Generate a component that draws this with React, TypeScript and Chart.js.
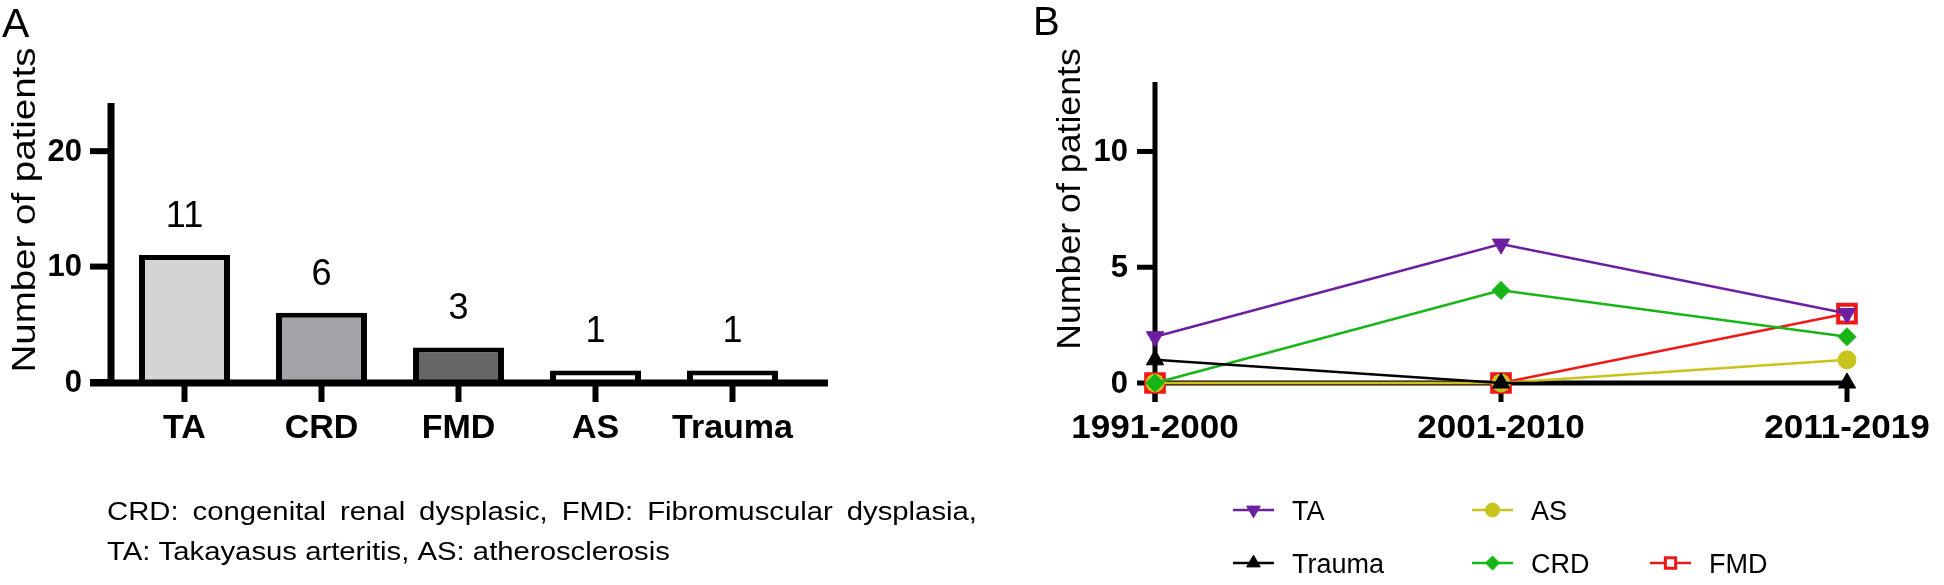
import React, { useEffect, useRef } from 'react';
import { Chart, registerables } from 'chart.js';
import { drawPoint } from 'chart.js/helpers';

Chart.register(...registerables);

// ---------- Data ----------
const BAR_CATEGORIES = ['TA', 'CRD', 'FMD', 'AS', 'Trauma'];
const BAR_VALUES = [11, 6, 3, 1, 1];
const BAR_COLORS = ['#d4d4d4', '#a3a3a7', '#666666', '#ffffff', '#ffffff'];
const BAR_Y_TICKS = [0, 10, 20];
const BAR_Y_MAX = 24;

const PERIODS = ['1991-2000', '2001-2010', '2011-2019'];
const TA_VALUES = [2, 6, 3];
const TRAUMA_VALUES = [1, 0, 0];
const CRD_VALUES = [0, 4, 2];
const AS_VALUES = [0, 0, 1];
const FMD_VALUES = [0, 0, 3];
const LINE_Y_TICKS = [0, 5, 10];
const LINE_Y_MAX = 13;

const CAPTION_LINES = [
  'CRD: congenital renal dysplasic, FMD: Fibromuscular dysplasia,',
  'TA: Takayasus arteritis, AS: atherosclerosis',
];
const Y_TITLE = 'Number of patients';

const FONT = "'Liberation Sans', Arial, Helvetica, sans-serif";

type TextOpts = {
  size: number;
  weight?: string;
  align?: CanvasTextAlign;
  baseline?: CanvasTextBaseline;
  sx?: number;
  rot?: number;
  color?: string;
};

function drawText(ctx: CanvasRenderingContext2D, str: string, x: number, y: number, o: TextOpts) {
  const { size, weight = 'normal', align = 'center', baseline = 'alphabetic', sx = 1, rot = 0, color = '#000' } = o;
  ctx.save();
  ctx.translate(x, y);
  if (rot) ctx.rotate(rot);
  if (sx !== 1) ctx.scale(sx, 1);
  ctx.font = `${weight} ${size}px ${FONT}`;
  ctx.fillStyle = color;
  ctx.textAlign = align;
  ctx.textBaseline = baseline;
  ctx.fillText(str, 0, 0);
  ctx.restore();
}

function drawJustified(ctx: CanvasRenderingContext2D, str: string, x: number, y: number, width: number, size: number, sx: number) {
  ctx.save();
  ctx.translate(x, y);
  ctx.scale(sx, 1);
  ctx.font = `normal ${size}px ${FONT}`;
  ctx.fillStyle = '#000';
  ctx.textAlign = 'left';
  ctx.textBaseline = 'alphabetic';
  const words = str.split(' ');
  const widths = words.map((w) => ctx.measureText(w).width);
  const total = widths.reduce((s, w) => s + w, 0);
  const gap = (width / sx - total) / (words.length - 1);
  let cx = 0;
  words.forEach((w, i) => {
    ctx.fillText(w, cx, 0);
    cx += widths[i] + gap;
  });
  ctx.restore();
}

function seg(ctx: CanvasRenderingContext2D, x1: number, y1: number, x2: number, y2: number) {
  ctx.beginPath();
  ctx.moveTo(x1, y1);
  ctx.lineTo(x2, y2);
  ctx.stroke();
}

// ---------- Panel A decorations ----------
const barDecor = {
  id: 'barDecor',
  afterDatasetsDraw(chart: any) {
    const { ctx, chartArea, scales } = chart;
    const xs = scales.x;
    const ys = scales.y;
    const axisX = chartArea.left - 5;
    const base = ys.getPixelForValue(0);
    const top = ys.getPixelForValue(BAR_Y_MAX);
    ctx.save();
    ctx.strokeStyle = '#000';
    ctx.lineCap = 'butt';
    ctx.lineWidth = 7;
    seg(ctx, axisX, top - 2, axisX, base + 3.5);
    seg(ctx, axisX - 21, base + 1, chartArea.right + 27, base + 1);
    ctx.lineWidth = 6;
    BAR_Y_TICKS.forEach((t) => {
      const py = ys.getPixelForValue(t);
      seg(ctx, axisX - 21, py, axisX, py);
      drawText(ctx, String(t), axisX - 29, py + 1, { size: 31, weight: 'bold', align: 'right', baseline: 'middle' });
    });
    BAR_CATEGORIES.forEach((c, i) => {
      const px = xs.getPixelForValue(i);
      seg(ctx, px, base, px, base + 20);
      drawText(ctx, c, px, base + 56, { size: 34, weight: 'bold' });
    });
    const meta = chart.getDatasetMeta(0);
    meta.data.forEach((el: any, i: number) => {
      drawText(ctx, String(BAR_VALUES[i]), el.x, el.y - 28, { size: 36 });
    });
    drawText(ctx, 'A', 2, 37, { size: 41, align: 'left' });
    drawText(ctx, Y_TITLE, 35, 210, { size: 33, rot: -Math.PI / 2, sx: 1.166 });
    drawJustified(ctx, CAPTION_LINES[0], 107, 520, 870, 26, 1.127);
    drawText(ctx, CAPTION_LINES[1], 107, 560, { size: 26, align: 'left', sx: 1.127 });
    ctx.restore();
  },
};

// ---------- Panel B decorations ----------
const LEGEND_LAYOUT = [
  { ds: 0, x: 233, y: 510 },
  { ds: 3, x: 472, y: 510 },
  { ds: 1, x: 233, y: 563 },
  { ds: 2, x: 472, y: 563 },
  { ds: 4, x: 650, y: 563 },
];

const lineDecor = {
  id: 'lineDecor',
  beforeDatasetsDraw(chart: any) {
    const { ctx, chartArea, scales } = chart;
    const xs = scales.x;
    const ys = scales.y;
    const axisX = chartArea.left;
    const base = ys.getPixelForValue(0);
    const top = ys.getPixelForValue(LINE_Y_MAX);
    ctx.save();
    ctx.strokeStyle = '#000';
    ctx.lineWidth = 5;
    seg(ctx, axisX, top, axisX, base + 19);
    seg(ctx, axisX - 2.5, base, xs.getPixelForValue(PERIODS.length - 1) + 2.5, base);
    LINE_Y_TICKS.forEach((t) => {
      const py = ys.getPixelForValue(t);
      seg(ctx, axisX - 18, py, axisX, py);
    });
    PERIODS.forEach((_, i) => {
      const px = xs.getPixelForValue(i);
      seg(ctx, px, base, px, base + 19);
    });
    ctx.restore();
  },
  afterDraw(chart: any) {
    const { ctx, chartArea, scales } = chart;
    const xs = scales.x;
    const ys = scales.y;
    const axisX = chartArea.left;
    const base = ys.getPixelForValue(0);
    ctx.save();
    LINE_Y_TICKS.forEach((t) => {
      const py = ys.getPixelForValue(t);
      drawText(ctx, String(t), axisX - 27, py + 1, { size: 31, weight: 'bold', align: 'right', baseline: 'middle' });
    });
    PERIODS.forEach((p, i) => {
      const px = xs.getPixelForValue(i);
      drawText(ctx, p, px, base + 55, { size: 34, weight: 'bold', sx: 1.03 });
    });
    drawText(ctx, 'B', 33, 35, { size: 40, align: 'left' });
    drawText(ctx, Y_TITLE, 80, 199, { size: 34, rot: -Math.PI / 2, sx: 1.05 });

    // legend
    LEGEND_LAYOUT.forEach((item) => {
      const ds = chart.data.datasets[item.ds];
      ctx.save();
      ctx.strokeStyle = ds.borderColor;
      ctx.lineWidth = 2.5;
      seg(ctx, item.x, item.y, item.x + 41, item.y);
      const bg = ds.pointBackgroundColor === 'rgba(0,0,0,0)' ? '#ffffff' : ds.pointBackgroundColor;
      ctx.fillStyle = bg;
      ctx.strokeStyle = ds.pointBorderColor;
      const bw = ds.pointBorderWidth > 1 ? 3 : ds.pointBorderWidth;
      ctx.lineWidth = bw;
      drawPoint(ctx, {
        pointStyle: ds.pointStyle,
        rotation: ds.pointRotation || 0,
        radius: ds.pointRadius * (ds.pointStyle === 'rect' ? 0.58 : 0.78),
        borderWidth: bw,
      } as any, item.x + 20.5, item.y);
      ctx.restore();
      drawText(ctx, ds.label, item.x + 59, item.y + 10, { size: 27, align: 'left' });
    });
    ctx.restore();
  },
};

export default function App() {
  const refA = useRef<HTMLCanvasElement>(null);
  const refB = useRef<HTMLCanvasElement>(null);

  useEffect(() => {
    const chartA = new Chart(refA.current as HTMLCanvasElement, {
      type: 'bar',
      data: {
        labels: BAR_CATEGORIES,
        datasets: [
          {
            data: BAR_VALUES,
            backgroundColor: BAR_COLORS,
            borderColor: '#000000',
            borderWidth: { top: 5, left: 6, right: 6, bottom: 0 },
            borderSkipped: false,
            categoryPercentage: 1,
            barPercentage: 0.664,
          } as any,
        ],
      },
      options: {
        responsive: false,
        animation: false,
        devicePixelRatio: 1,
        events: [],
        layout: { padding: { left: 116, right: 199, top: 105, bottom: 203 } },
        plugins: { legend: { display: false }, tooltip: { enabled: false } },
        scales: {
          x: { display: false },
          y: { display: false, min: 0, max: BAR_Y_MAX },
        },
      },
      plugins: [barDecor],
    });

    const common = { borderWidth: 2.5, tension: 0, clip: false as any, pointBorderWidth: 1 };
    const chartB = new Chart(refB.current as HTMLCanvasElement, {
      type: 'line',
      data: {
        labels: PERIODS,
        datasets: [
          {
            ...common,
            label: 'TA',
            data: TA_VALUES,
            borderColor: '#6e1ea0',
            backgroundColor: '#6e1ea0',
            pointBackgroundColor: '#6e1ea0',
            pointBorderColor: '#6e1ea0',
            pointStyle: 'triangle',
            pointRotation: 180,
            pointRadius: 10,
          },
          {
            ...common,
            label: 'Trauma',
            data: TRAUMA_VALUES,
            borderColor: '#000000',
            backgroundColor: '#000000',
            pointBackgroundColor: '#000000',
            pointBorderColor: '#000000',
            pointStyle: 'triangle',
            pointRadius: 10,
          },
          {
            ...common,
            label: 'CRD',
            data: CRD_VALUES,
            borderColor: '#17b517',
            backgroundColor: '#17b517',
            pointBackgroundColor: '#17b517',
            pointBorderColor: '#17b517',
            pointStyle: 'rectRot',
            pointRadius: 9,
          },
          {
            ...common,
            label: 'AS',
            data: AS_VALUES,
            borderColor: '#c8c31a',
            backgroundColor: '#c8c31a',
            pointBackgroundColor: '#c8c31a',
            pointBorderColor: '#c8c31a',
            pointStyle: 'circle',
            pointRadius: 9,
          },
          {
            ...common,
            label: 'FMD',
            data: FMD_VALUES,
            borderColor: '#f01818',
            backgroundColor: '#f01818',
            pointBackgroundColor: 'rgba(0,0,0,0)',
            pointBorderColor: '#f01818',
            pointBorderWidth: 4,
            pointStyle: 'rect',
            pointRadius: 12.5,
          },
        ] as any,
      },
      options: {
        responsive: false,
        animation: false,
        devicePixelRatio: 1,
        events: [],
        layout: { padding: { left: 155, right: 97, top: 82, bottom: 202 } },
        plugins: { legend: { display: false }, tooltip: { enabled: false } },
        scales: {
          x: { display: false, offset: false },
          y: { display: false, min: 0, max: LINE_Y_MAX },
        },
      },
      plugins: [lineDecor],
    });

    return () => {
      chartA.destroy();
      chartB.destroy();
    };
  }, []);

  return (
    <div style={{ position: 'fixed', left: 0, top: 0, width: 1944, height: 585, background: '#ffffff' }}>
      <canvas ref={refA} width={1000} height={585} style={{ position: 'absolute', left: 0, top: 0, display: 'block' }} />
      <canvas ref={refB} width={944} height={585} style={{ position: 'absolute', left: 1000, top: 0, display: 'block' }} />
    </div>
  );
}
